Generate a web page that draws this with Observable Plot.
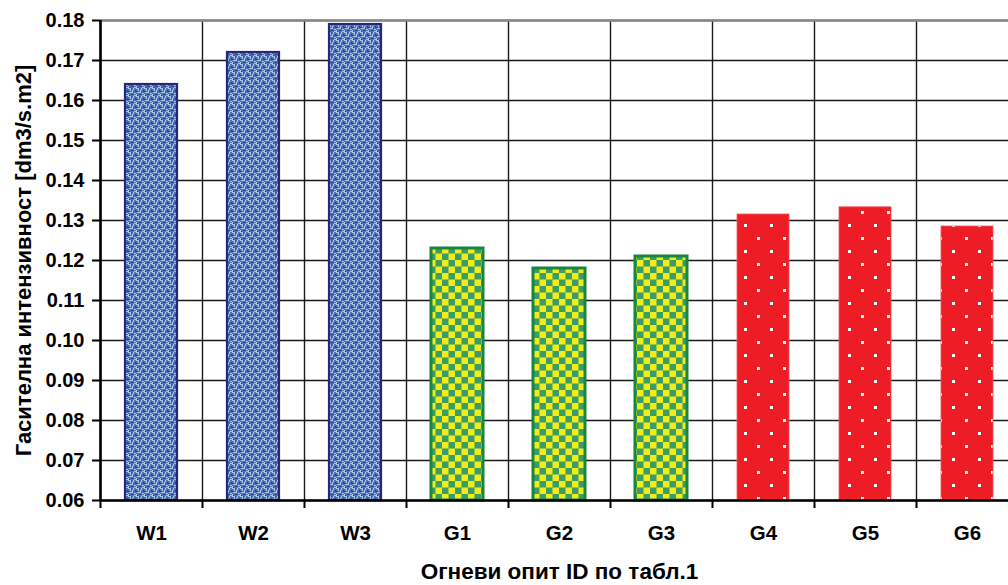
<!DOCTYPE html>
<html>
<head>
<meta charset="utf-8">
<script src="https://cdn.jsdelivr.net/npm/d3@7"></script>
<script src="https://cdn.jsdelivr.net/npm/@observablehq/plot@0.6"></script>
<style>
  html, body { margin: 0; padding: 0; background: #fff; overflow: hidden; }
  #chart { width: 1008px; height: 585px; overflow: hidden; }
  #chart svg { max-width: none !important; }
</style>
</head>
<body>
<div id="chart"></div>
<script>
// ---- data ----
const categories = ["W1", "W2", "W3", "G1", "G2", "G3", "G4", "G5", "G6"];
const values = [0.164, 0.172, 0.179, 0.123, 0.118, 0.121, 0.1315, 0.1333, 0.1285];
const groups = ["W", "W", "W", "G", "G", "G", "R", "R", "R"];
const yTicks = [0.06, 0.07, 0.08, 0.09, 0.10, 0.11, 0.12, 0.13, 0.14, 0.15, 0.16, 0.17, 0.18];
const yTitle = "Гасителна интензивност [dm3/s.m2]";
const xTitle = "Огневи опит ID по табл.1";

const rows = categories.map((c, i) => ({cat: c, i, value: values[i], group: groups[i]}));
const boundaries = d3.range(0, categories.length + 1);
const centers = categories.map((_, i) => i + 0.5);

const barOpts = (g, extra) => ({
  filter: d => d.group === g,
  x1: d => d.i + 0.245,
  x2: d => d.i + 0.755,
  y1: 0.06,
  y2: "value",
  ...extra
});

const plot = Plot.plot({
  width: 1018,
  height: 585,
  marginLeft: 100,
  marginRight: 0,
  marginTop: 20,
  marginBottom: 85,
  style: {fontFamily: "Arial, 'Liberation Sans', sans-serif", fontWeight: "bold", color: "#000", background: "#fff", maxWidth: "none"},
  x: {domain: [0, categories.length]},
  y: {domain: [0.06, 0.18]},
  marks: [
    Plot.gridY({ticks: yTicks, stroke: "#1a1a1a", strokeOpacity: 1, strokeWidth: 1.4}),
    Plot.gridX({ticks: boundaries, stroke: "#1a1a1a", strokeOpacity: 1, strokeWidth: 1.4}),
    Plot.ruleY([0.18], {stroke: "#888", strokeWidth: 2.5}),
    Plot.rect(rows, barOpts("W", {fill: "url(#patW)", stroke: "#26267c", strokeWidth: 2.2})),
    Plot.rect(rows, barOpts("G", {fill: "url(#patG)", stroke: "#17873f", strokeWidth: 3})),
    Plot.rect(rows, barOpts("R", {fill: "url(#patR)", stroke: "#f15a60", strokeWidth: 0.8})),
    Plot.axisY({ticks: yTicks, tickFormat: d => d.toFixed(2), tickSize: 8, tickPadding: 8,
      fontSize: 20, fontWeight: "bold", stroke: "#000", strokeWidth: 2, label: null}),
    Plot.axisX({ticks: boundaries, tickSize: 8, tickFormat: () => "", stroke: "#000", strokeWidth: 2, label: null}),
    Plot.axisX({ticks: centers, tickSize: 0, tickPadding: 25, tickFormat: d => categories[Math.floor(d)],
      fontSize: 20.5, fontWeight: "bold", label: null}),
    Plot.ruleY([0.06], {stroke: "#000", strokeWidth: 2.6}),
    Plot.ruleX([0], {stroke: "#000", strokeWidth: 2.6}),
    Plot.text([xTitle], {frameAnchor: "bottom", dy: 71, fontSize: 22.5, fontWeight: "bold", lineAnchor: "middle", textAnchor: "middle"}),
    Plot.text([yTitle], {frameAnchor: "left", dx: -77, rotate: -90, fontSize: 22, fontWeight: "bold", lineAnchor: "middle", textAnchor: "middle"})
  ]
});
plot.style.maxWidth = "none";

const svg = d3.select(plot);

// patterns
const defs = svg.insert("defs", ":first-child");

// denim-like woven blue texture
const pw = defs.append("pattern").attr("id", "patW").attr("patternUnits", "userSpaceOnUse")
  .attr("width", 8).attr("height", 8);
pw.append("rect").attr("width", 8).attr("height", 8).attr("fill", "#4f72b4");
const light = [[0,0,3,1],[4,2,1,3],[1,4,3,1],[6,5,2,1],[0,6,1,2],[5,0,1,2],[2,1,1,2],[6,7,2,1]];
light.forEach(([x, y, w, h]) => pw.append("rect").attr("x", x).attr("y", y).attr("width", w).attr("height", h).attr("fill", "#aac4ec"));
const dark = [[3,0,1,1],[0,3,2,1],[5,4,1,1],[3,6,2,1],[7,2,1,2],[1,7,1,1]];
dark.forEach(([x, y, w, h]) => pw.append("rect").attr("x", x).attr("y", y).attr("width", w).attr("height", h).attr("fill", "#27427f"));

// yellow / green checkerboard
const pg = defs.append("pattern").attr("id", "patG").attr("patternUnits", "userSpaceOnUse")
  .attr("width", 13).attr("height", 13);
pg.append("rect").attr("width", 13).attr("height", 13).attr("fill", "#3a9c68");
pg.append("rect").attr("width", 6.5).attr("height", 6.5).attr("fill", "#f2ec18");
pg.append("rect").attr("x", 6.5).attr("y", 6.5).attr("width", 6.5).attr("height", 6.5).attr("fill", "#f2ec18");

// red with white dots
const pr = defs.append("pattern").attr("id", "patR").attr("patternUnits", "userSpaceOnUse")
  .attr("width", 26).attr("height", 26).attr("x", 3).attr("y", 3);
pr.append("rect").attr("width", 26).attr("height", 26).attr("fill", "#ee1c25");
pr.append("rect").attr("x", 0).attr("y", 0).attr("width", 3).attr("height", 3).attr("fill", "#fff");
pr.append("rect").attr("x", 13).attr("y", 13).attr("width", 3).attr("height", 3).attr("fill", "#fff");

document.getElementById("chart").appendChild(plot);
</script>
</body>
</html>
